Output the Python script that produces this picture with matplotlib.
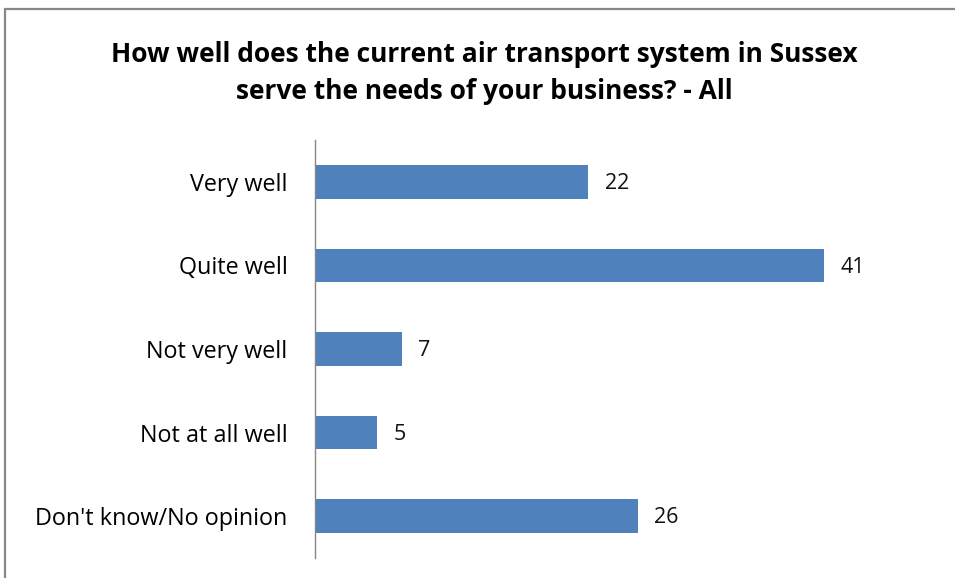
import matplotlib.pyplot as plt
from matplotlib.patches import Rectangle

# survey answers, top to bottom
categories = ['Very well', 'Quite well', 'Not very well', 'Not at all well', "Don't know/No opinion"]
values = [22, 41, 7, 5, 26]
title = 'How well does the current air transport system in Sussex\nserve the needs of your business? - All'

plt.rcParams['font.family'] = ['Open Sans', 'DejaVu Sans']

W, H = 955, 578
fig = plt.figure(figsize=(W / 100, H / 100), dpi=100)

# chart frame (runs off the right and bottom edges)
fig.patches.append(Rectangle((5 / W, -0.05), 1.1, 1 - 9 / H + 0.05, transform=fig.transFigure,
                             fill=False, edgecolor='#878787', linewidth=1.6, clip_on=False))

ax = fig.add_axes([314.5 / W, 1 - 558 / H, (936 - 314.5) / W, (558 - 140) / H])
pos = list(range(len(categories)))
ax.barh(pos, values, height=0.4, color='#4F81BD')
ax.set_ylim(len(categories) - 0.5, -0.5)
ax.set_xlim(0, 50)

for p, v in zip(pos, values):
    ax.text(v + 1.35, p + 0.02, str(v), va='center', ha='left', fontsize=15.5, color='#111111')

ax.set_yticks(pos)
ax.set_yticklabels(categories, fontsize=16.8)
ax.tick_params(axis='y', length=0, pad=19.5)
ax.set_xticks([])
for side in ['top', 'right', 'bottom']:
    ax.spines[side].set_visible(False)
ax.spines['left'].set_color('#868686')
ax.spines['left'].set_linewidth(1.0)

fig.text(484 / W, 1 - 73 / H, title, ha='center', va='center', fontsize=19,
         fontweight='bold', linespacing=1.45)

fig.savefig('out.png', dpi=100)
